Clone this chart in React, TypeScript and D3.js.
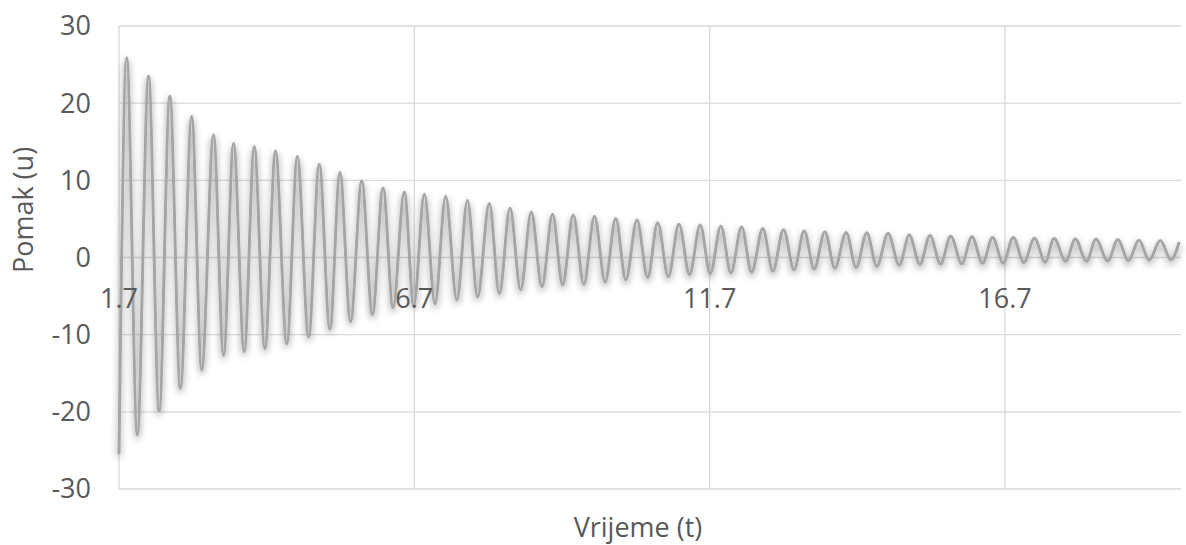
import React from "react";
import * as d3 from "d3";

// Extrema (time, displacement)
const peakTimes = [1.83, 2.2, 2.56, 2.93, 3.3, 3.64, 3.99, 4.35, 4.72, 5.09, 5.44, 5.81, 6.17, 6.53, 6.87, 7.23, 7.6, 7.97, 8.32, 8.68, 9.04, 9.39, 9.75, 10.11, 10.47, 10.82, 11.18, 11.54, 11.89, 12.24, 12.6, 12.95, 13.3, 13.65, 14.01, 14.36, 14.72, 15.08, 15.43, 15.78, 16.14, 16.49, 16.84, 17.2, 17.53, 17.89, 18.24, 18.61, 18.97, 19.33];
const peakValues = [25.9, 23.5, 20.9, 18.3, 15.9, 14.8, 14.4, 13.8, 13.1, 12.1, 11.0, 9.9, 9.0, 8.5, 8.2, 7.9, 7.4, 7.0, 6.4, 5.9, 5.6, 5.5, 5.35, 5.05, 4.85, 4.5, 4.3, 4.2, 4.05, 3.95, 3.75, 3.6, 3.45, 3.35, 3.25, 3.2, 3.1, 2.9, 2.85, 2.75, 2.7, 2.6, 2.6, 2.5, 2.45, 2.4, 2.35, 2.3, 2.25, 2.2];
const troughTimes = [1.7, 2.01, 2.38, 2.74, 3.1, 3.47, 3.82, 4.17, 4.54, 4.91, 5.27, 5.62, 5.99, 6.34, 6.69, 7.05, 7.42, 7.77, 8.14, 8.5, 8.86, 9.21, 9.57, 9.93, 10.28, 10.65, 11.0, 11.36, 11.71, 12.06, 12.41, 12.77, 13.13, 13.47, 13.82, 14.18, 14.53, 14.91, 15.26, 15.61, 15.97, 16.32, 16.67, 17.02, 17.38, 17.73, 18.08, 18.44, 18.79, 19.14, 19.51];
const troughValues = [-25.5, -23.0, -19.9, -17.0, -14.6, -12.7, -12.2, -11.8, -11.2, -10.3, -9.3, -8.3, -7.4, -6.5, -6.2, -6.0, -5.5, -5.1, -4.7, -4.2, -3.8, -3.55, -3.5, -3.2, -2.9, -2.6, -2.5, -2.2, -2.1, -2.0, -1.9, -1.75, -1.6, -1.5, -1.4, -1.3, -1.15, -1.0, -0.9, -0.85, -0.8, -0.75, -0.75, -0.65, -0.6, -0.5, -0.5, -0.45, -0.4, -0.35, -0.3];
const endTimes = [19.65];
const endValues = [2.0];

const yTicks = [-30, -20, -10, 0, 10, 20, 30];
const xTicks = [1.7, 6.7, 11.7, 16.7];
const xDomain = [1.7, 19.68];
const yDomain = [-30, 30];
const xTitle = "Vrijeme (t)";
const yTitle = "Pomak (u)";

const W = 1186;
const H = 545;
const FONT = "'Open Sans', 'DejaVu Sans', sans-serif";

export default function App() {
  const x = d3.scaleLinear().domain(xDomain).range([119, 1181]);
  const y = d3.scaleLinear().domain(yDomain).range([489, 26]);

  const pts: [number, number][] = [];
  troughTimes.forEach((t, i) => pts.push([t, troughValues[i]]));
  peakTimes.forEach((t, i) => pts.push([t, peakValues[i]]));
  endTimes.forEach((t, i) => pts.push([t, endValues[i]]));
  pts.sort((a, b) => a[0] - b[0]);

  const line = d3
    .line<[number, number]>()
    .x((d) => x(d[0]))
    .y((d) => y(d[1]))
    .curve(d3.curveMonotoneX);

  const fmt = (v: number) => (Number.isInteger(v) ? String(v) : v.toFixed(1));

  return (
    <svg
      width={W}
      height={H}
      style={{ position: "absolute", left: 0, top: 0, background: "#fff" }}
      fontFamily={FONT}
    >
      <defs>
        <filter id="shadow" x="-5%" y="-10%" width="110%" height="125%">
          <feDropShadow dx="0" dy="3" stdDeviation="3.5" floodColor="#000" floodOpacity="0.42" />
        </filter>
      </defs>
      {yTicks.map((v) => (
        <line key={"gy" + v} x1={x(xDomain[0])} x2={x(xDomain[1])} y1={y(v)} y2={y(v)} stroke="#d9d9d9" strokeWidth={1.3} />
      ))}
      {xTicks.map((v) => (
        <line key={"gx" + v} x1={x(v)} x2={x(v)} y1={y(yDomain[0])} y2={y(yDomain[1])} stroke="#d9d9d9" strokeWidth={1.3} />
      ))}
      <path d={line(pts) || ""} fill="none" stroke="#a5a5a5" strokeWidth={3} strokeLinejoin="round" filter="url(#shadow)" />
      {yTicks.map((v) => (
        <text key={"ty" + v} x={91} y={y(v)} dy="0.35em" textAnchor="end" fontSize={27} fill="#595959">
          {fmt(v)}
        </text>
      ))}
      {xTicks.map((v) => (
        <text key={"tx" + v} x={x(v)} y={308} textAnchor="middle" fontSize={27} fill="#595959">
          {fmt(v)}
        </text>
      ))}
      <text x={638} y={537} textAnchor="middle" fontSize={27} fill="#595959">
        {xTitle}
      </text>
      <text transform={`translate(33,210) rotate(-90)`} textAnchor="middle" fontSize={27} fill="#595959">
        {yTitle}
      </text>
    </svg>
  );
}
